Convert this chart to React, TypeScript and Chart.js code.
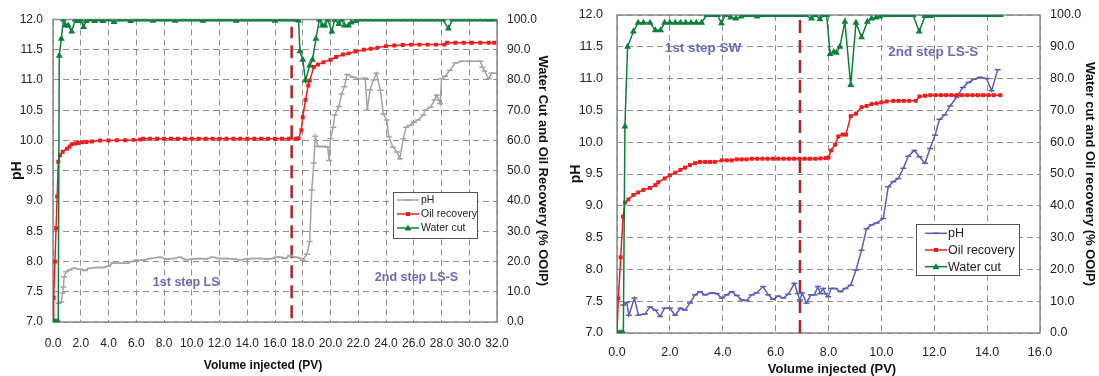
import React, { useEffect, useRef } from "react";
import { Chart, registerables } from "chart.js";

Chart.register(...registerables);

const FONT = '"Liberation Sans", Arial, Helvetica, sans-serif';

// ---------------- Left panel: 1st step LS / 2nd step LS-S ----------------
const lsPhX = [
  0.4, 0.6, 0.7, 0.75, 0.8, 0.95, 1.2, 1.5, 1.95, 2.3,
  2.65, 3.1, 3.6, 4.0, 4.35, 4.8, 5.3, 5.7, 6.0, 6.5,
  7.0, 7.7, 8.2, 8.7, 9.15, 9.6, 10.1, 10.6, 11.0, 11.5,
  12.0, 12.5, 13.0, 13.5, 14.0, 14.4, 14.9, 15.4, 15.8, 16.1,
  16.4, 16.7, 17.1, 17.5, 17.9, 18.0, 18.3, 18.5, 18.65, 18.8,
  18.9, 19.1, 19.4, 19.6, 19.8, 19.9, 20.0, 20.2, 20.3, 20.6,
  20.8, 21.0, 21.2, 21.6, 22.1, 22.5, 22.65, 22.85, 23.1, 23.3,
  23.6, 23.8, 24.05, 24.2, 24.5, 24.8, 25.0, 25.25, 25.45, 25.7,
  26.0, 26.3, 26.7, 26.8, 27.2, 27.5, 27.65, 27.9, 28.0, 28.25,
  28.6, 29.0, 29.45, 30.05, 30.8, 30.95, 31.1, 31.4, 31.6, 31.8,
];
const lsPhY = [
  7.31, 7.33, 7.48, 7.58, 7.75, 7.83, 7.86, 7.89, 7.87, 7.85,
  7.89, 7.9, 7.9, 7.92, 7.98, 7.97, 7.97, 8.0, 8.02, 8.02,
  8.05, 8.07, 8.04, 8.05, 8.07, 8.03, 8.04, 8.05, 8.04, 8.07,
  8.05, 8.05, 8.04, 8.03, 8.04, 8.05, 8.05, 8.04, 8.05, 8.07,
  8.07, 8.05, 8.1, 8.07, 8.05, 8.02, 8.12, 8.33, 9.18, 9.63,
  10.07, 9.9, 9.9, 9.9, 9.89, 9.67, 10.03, 10.22, 10.42, 10.56,
  10.77, 10.89, 11.09, 11.05, 11.02, 11.03, 10.5, 10.84, 11.0, 11.11,
  10.83, 10.44, 10.34, 10.06, 9.89, 9.81, 9.7, 10.03, 10.22, 10.25,
  10.3, 10.34, 10.42, 10.5, 10.55, 10.67, 10.75, 10.61, 11.02, 11.06,
  11.16, 11.28, 11.31, 11.31, 11.31, 11.21, 11.15, 11.02, 11.11, 11.11,
];
const lsOilX = [
  0, 0.05, 0.14, 0.22, 0.3, 0.38, 0.5, 0.7, 1.0, 1.2,
  1.35, 1.6, 1.8, 2.1, 2.4, 2.8, 3.4, 4.0, 4.6, 5.2,
  5.8, 6.3, 6.5, 7.0, 7.5, 8.0, 8.5, 9.0, 9.5, 10.0,
  10.5, 11.0, 11.5, 12.0, 12.5, 13.0, 13.5, 14.0, 14.5, 15.0,
  15.5, 16.0, 16.5, 17.0, 17.5, 17.7, 17.9, 18.0, 18.2, 18.4,
  18.5, 18.8, 19.1, 19.5, 20.0, 20.4, 20.9, 21.3, 21.8, 22.4,
  22.9, 23.4, 24.0, 24.6, 25.2, 25.8, 26.4, 27.0, 27.6, 28.2,
  28.4, 29.0, 29.6, 30.2, 30.8, 31.4, 31.8,
];
const lsOilY = [
  0, 8, 20, 31, 41.5, 53, 55.1, 56.3, 57.3, 58.0,
  58.8, 59.0, 59.2, 59.4, 59.5, 59.7, 60.0, 60.0, 60.1, 60.1,
  60.2, 60.3, 60.6, 60.6, 60.6, 60.6, 60.6, 60.6, 60.6, 60.6,
  60.6, 60.6, 60.6, 60.6, 60.6, 60.6, 60.6, 60.6, 60.6, 60.6,
  60.6, 60.6, 60.6, 60.6, 60.6, 60.7, 63.4, 67.7, 73.5, 78.2,
  79.8, 84.3, 85.1, 85.9, 86.7, 87.6, 88.4, 88.8, 89.4, 90.0,
  90.3, 90.7, 91.2, 91.4, 91.6, 91.7, 91.7, 91.7, 91.7, 91.7,
  92.3, 92.3, 92.3, 92.3, 92.3, 92.3, 92.3,
];
const lsWaterX = [
  0, 0.1, 0.2, 0.3, 0.38, 0.45, 0.6, 0.75, 0.9, 1.1,
  1.35, 1.6, 1.8, 2.0, 2.2, 2.4, 2.7, 3.0, 3.3, 3.6,
  4.0, 4.4, 4.8, 5.2, 5.6, 6.0, 6.4, 6.8, 7.2, 7.6,
  8.0, 8.4, 8.8, 9.2, 9.6, 10.0, 10.4, 10.8, 11.2, 11.6,
  12.0, 12.4, 12.8, 13.2, 13.6, 14.0, 14.4, 14.8, 15.2, 15.6,
  16.0, 16.4, 16.8, 17.2, 17.5, 17.7, 17.8, 18.0, 18.2, 18.5,
  18.7, 18.95, 19.2, 19.4, 19.6, 19.8, 20.1, 20.3, 20.6, 20.8,
  21.0, 21.3, 21.5, 21.8, 22.1, 22.5, 22.9, 23.3, 23.7, 24.1,
  24.5, 24.9, 25.3, 25.7, 26.1, 26.5, 26.9, 27.3, 27.7, 28.1,
  28.5, 28.8, 29.2, 29.6, 30.0, 30.4, 30.8, 31.2, 31.5, 31.8,
];
const lsWaterY = [
  0, 0, 0, 0, 0, 88, 93.6, 100, 98, 98,
  96, 100, 99.5, 100, 97.5, 99.5, 100, 99.5, 100, 99.5,
  100, 99.2, 100, 100, 99.5, 100, 100, 100, 99.6, 100,
  100, 100, 99.6, 100, 100, 100, 100, 99.6, 100, 100,
  100, 100, 100, 99.6, 100, 100, 100, 100, 100, 100,
  99.6, 100, 100, 100, 100, 99.7, 89.5, 86.7, 79.8, 84.8,
  86.7, 93.6, 100, 98, 98, 100, 96, 100, 98.5, 100,
  98, 98, 99, 99.5, 100, 100, 100, 100, 100, 100,
  100, 100, 100, 100, 100, 100, 100, 100, 100, 100,
  97, 100, 100, 100, 100, 100, 100, 100, 100, 100,
];
const lsXTicks = [0, 2, 4, 6, 8, 10, 12, 14, 16, 18, 20, 22, 24, 26, 28, 30, 32];
const lsSwitchPV = 17.2;

// ---------------- Right panel: 1st step SW / 2nd step LS-S ----------------
const swPhX = [
  0.24, 0.37, 0.45, 0.66, 0.81, 1.06, 1.25, 1.45, 1.63, 1.8,
  2.0, 2.2, 2.4, 2.57, 2.76, 2.95, 3.14, 3.33, 3.58, 3.77,
  3.96, 4.15, 4.34, 4.53, 4.72, 4.9, 5.1, 5.28, 5.53, 5.72,
  5.9, 6.1, 6.29, 6.48, 6.71, 6.83, 6.92, 7.0, 7.17, 7.33,
  7.47, 7.6, 7.68, 7.8, 7.87, 7.99, 8.1, 8.25, 8.45, 8.64,
  8.84, 9.04, 9.25, 9.44, 9.63, 9.82, 10.07, 10.26, 10.45, 10.64,
  10.83, 11.02, 11.25, 11.44, 11.65, 11.84, 12.03, 12.2, 12.4, 12.6,
  12.85, 13.08, 13.3, 13.5, 13.73, 13.98, 14.17, 14.4,
];
const swPhY = [
  7.44, 7.48, 7.28, 7.55, 7.28, 7.3, 7.41, 7.36, 7.26, 7.39,
  7.39, 7.28, 7.39, 7.36, 7.47, 7.6, 7.65, 7.6, 7.63, 7.62,
  7.55, 7.6, 7.65, 7.59, 7.52, 7.51, 7.6, 7.63, 7.73, 7.6,
  7.53, 7.58, 7.55, 7.61, 7.78, 7.62, 7.52, 7.63, 7.47, 7.6,
  7.6, 7.73, 7.62, 7.7, 7.62, 7.57, 7.7, 7.7, 7.65, 7.7,
  7.75, 7.99, 8.3, 8.64, 8.7, 8.73, 8.8, 9.3, 9.38, 9.43,
  9.59, 9.78, 9.87, 9.77, 9.67, 9.9, 10.11, 10.36, 10.43, 10.57,
  10.71, 10.86, 10.94, 10.99, 11.02, 11.0, 10.81, 11.14,
];
const swOilX = [
  0, 0.05, 0.14, 0.23, 0.3, 0.43, 0.62, 0.8, 1.0, 1.25,
  1.45, 1.56, 1.8, 2.0, 2.2, 2.4, 2.57, 2.76, 2.95, 3.14,
  3.33, 3.52, 3.7, 3.96, 4.15, 4.34, 4.53, 4.72, 4.9, 5.1,
  5.3, 5.5, 5.7, 5.9, 6.1, 6.3, 6.5, 6.7, 6.9, 7.1,
  7.3, 7.5, 7.7, 7.9, 8.0, 8.1, 8.25, 8.37, 8.53, 8.66,
  8.84, 9.04, 9.25, 9.44, 9.63, 9.82, 10.0, 10.2, 10.45, 10.65,
  10.85, 11.05, 11.3, 11.44, 11.65, 11.85, 12.05, 12.25, 12.45, 12.65,
  12.85, 13.05, 13.25, 13.45, 13.65, 13.85, 14.05, 14.25, 14.5,
];
const swOilY = [
  0, 10.9, 23.8, 36.6, 41, 42, 43.4, 44.2, 45, 45.6,
  46.5, 47.4, 48.6, 49.6, 50.4, 51.3, 52, 52.8, 53.4, 53.8,
  53.8, 53.8, 53.8, 54.3, 54.3, 54.3, 54.6, 54.6, 54.6, 54.8,
  54.8, 54.8, 54.8, 54.8, 54.8, 54.8, 54.8, 54.8, 54.8, 54.8,
  54.8, 54.8, 54.9, 55.0, 55.2, 57.4, 59.2, 61.8, 62.4, 62.4,
  68.2, 69.0, 71.0, 71.4, 72.0, 72.2, 72.5, 72.8, 73.0, 73.0,
  73.0, 73.0, 73.0, 74.4, 74.6, 74.8, 74.8, 74.8, 74.8, 74.8,
  74.8, 74.8, 74.8, 74.8, 74.8, 74.8, 74.8, 74.8, 74.8,
];
const swWaterX = [
  0, 0.08, 0.16, 0.24, 0.3, 0.4, 0.62, 0.8, 1.0, 1.25,
  1.45, 1.65, 1.8, 2.0, 2.2, 2.4, 2.6, 2.8, 3.0, 3.2,
  3.4, 3.6, 3.8, 3.95, 4.1, 4.3, 4.5, 4.7, 4.9, 5.1,
  5.3, 5.5, 5.7, 5.9, 6.1, 6.3, 6.5, 6.7, 6.9, 7.1,
  7.36, 7.5, 7.68, 7.8, 7.93, 8.06, 8.2, 8.3, 8.43, 8.62,
  8.84, 9.04, 9.25, 9.47, 9.63, 9.8, 9.95, 10.2, 10.4, 10.6,
  10.8, 11.0, 11.2, 11.43, 11.65, 11.85, 12.05, 12.25, 12.45, 12.65,
  12.85, 13.05, 13.25, 13.45, 13.65, 13.85, 14.05, 14.25, 14.5,
];
const swWaterY = [
  0, 0, 0, 0, 64.9, 90, 94.8, 97.6, 97.6, 97.6,
  95.2, 95.2, 97.6, 97.6, 97.6, 97.6, 97.6, 97.6, 97.6, 97.6,
  100, 100, 100, 97.4, 100, 99.2, 98.9, 99.5, 100, 100,
  99.5, 100, 100, 100, 100, 100, 100, 100, 100, 100,
  98.9, 100, 98.7, 100, 100, 87.7, 88.4, 88.1, 90, 97.9,
  78, 97.6, 93, 97.9, 98.9, 99.2, 99.5, 100, 100, 100,
  100, 100, 100, 94.8, 99.7, 99.7, 100, 100, 100, 100,
  100, 100, 100, 100, 100, 100, 100, 100, 100,
];
const swXTicks = [0, 2, 4, 6, 8, 10, 12, 14, 16];
const swSwitchPV = 6.92;

const phTicks = [7, 7.5, 8, 8.5, 9, 9.5, 10, 10.5, 11, 11.5, 12];
const pctTicks = [0, 10, 20, 30, 40, 50, 60, 70, 80, 90, 100];

// ---------------- styling ----------------
const GREEN = "#0c7f3c";
const RED = "#ee1c1c";
const GRAY = "#a3a3a3";
const BLUE = "#5c5cb4";
const DIVIDER = "#ad2426";
const NOTE = "#6b6bb3";
const GRID = "#8f8f8f";
const FRAME = "#8a8a8a";
const TEXT = "#222";

function pts(xs: number[], ys: number[]) {
  return xs.map((x, i) => ({ x, y: ys[i] }));
}

type Entry = { label: string; color: string; style: string };

const overlayPlugin = {
  id: "overlay",
  beforeDatasetsDraw(chart: any) {
    const { ctx, chartArea: a } = chart;
    ctx.save();
    ctx.setLineDash([]);
    ctx.strokeStyle = FRAME;
    ctx.lineWidth = 1.5;
    ctx.strokeRect(a.left, a.top, a.right - a.left, a.bottom - a.top);
    ctx.restore();
  },
  afterDatasetsDraw(chart: any, _args: any, opts: any) {
    const { ctx } = chart;
    const xs = chart.scales.x;
    const ys = chart.scales.y;
    ctx.save();
    // step notes
    ctx.font = `bold ${opts.noteSize}px ${FONT}`;
    ctx.fillStyle = NOTE;
    ctx.textAlign = "center";
    ctx.textBaseline = "middle";
    for (const n of opts.notes) {
      ctx.fillText(n.text, xs.getPixelForValue(n.x), ys.getPixelForValue(n.y));
    }
    // legend
    const L = opts.legend;
    ctx.fillStyle = "#fff";
    ctx.fillRect(L.x, L.y, L.w, L.h);
    ctx.strokeStyle = "#555";
    ctx.lineWidth = 1;
    ctx.strokeRect(L.x + 0.5, L.y + 0.5, L.w, L.h);
    ctx.font = `${L.size}px ${FONT}`;
    ctx.textAlign = "left";
    opts.entries.forEach((e: Entry, i: number) => {
      const y = L.y + L.first + i * L.row;
      ctx.strokeStyle = e.color;
      ctx.fillStyle = e.color;
      ctx.lineWidth = 1.5;
      ctx.beginPath();
      ctx.moveTo(L.lineX0, y);
      ctx.lineTo(L.lineX1, y);
      ctx.stroke();
      const cx = (L.lineX0 + L.lineX1) / 2;
      if (e.style === "rect") {
        ctx.fillRect(cx - 2, y - 2, 4, 4);
      } else if (e.style === "triangle") {
        ctx.beginPath();
        ctx.moveTo(cx, y - 3.5);
        ctx.lineTo(cx + 3.5, y + 2.5);
        ctx.lineTo(cx - 3.5, y + 2.5);
        ctx.closePath();
        ctx.fill();
      } else {
        ctx.beginPath();
        ctx.moveTo(cx - 3, y);
        ctx.lineTo(cx + 3, y);
        ctx.stroke();
      }
      ctx.fillStyle = TEXT;
      ctx.textBaseline = "middle";
      ctx.fillText(e.label, L.textX, y + 0.5);
    });
    // x axis title
    const T = opts.xTitle;
    ctx.font = `bold ${T.size}px ${FONT}`;
    ctx.fillStyle = "#111";
    ctx.textAlign = "center";
    ctx.textBaseline = "middle";
    ctx.fillText(T.text, T.x, T.y);
    ctx.restore();
  },
};

type Spec = {
  left: number;
  width: number;
  height: number;
  top: number;
  xAxisH: number;
  yAxisW: number;
  y2AxisW: number;
  xMax: number;
  xTicks: number[];
  tickSize: number;
  xTickPad: number;
  yTickGap: number;
  y2TickGap: number;
  phTitlePad: number;
  y2TitlePad: number;
  y2Title: string;
  ph: { x: number[]; y: number[]; color: string };
  oil: { x: number[]; y: number[] };
  water: { x: number[]; y: number[] };
  switchPV: number;
  switchRange: [number, number];
  noteSize: number;
  notes: { text: string; x: number; y: number }[];
  legend: any;
  xTitle: any;
};

function buildConfig(s: Spec): any {
  const entries: Entry[] = [
    { label: "pH", color: s.ph.color, style: "line" },
    { label: "Oil recovery", color: RED, style: "rect" },
    { label: "Water cut", color: GREEN, style: "triangle" },
  ];
  const tickFont = { family: FONT, size: s.tickSize };
  return {
    type: "line",
    data: {
      datasets: [
        {
          label: "Water cut",
          data: pts(s.water.x, s.water.y),
          yAxisID: "y2",
          borderColor: GREEN,
          backgroundColor: GREEN,
          borderWidth: 1.5,
          pointStyle: "triangle",
          pointRadius: 4,
          pointBorderWidth: 0,
          tension: 0,
        },
        {
          label: "Oil recovery",
          data: pts(s.oil.x, s.oil.y),
          yAxisID: "y2",
          borderColor: RED,
          backgroundColor: RED,
          borderWidth: 1.5,
          pointStyle: "rect",
          pointRadius: 2.8,
          pointBorderWidth: 0,
          tension: 0,
        },
        {
          label: "pH",
          data: pts(s.ph.x, s.ph.y),
          yAxisID: "y",
          borderColor: s.ph.color,
          backgroundColor: s.ph.color,
          borderWidth: 1.5,
          pointStyle: "line",
          pointRadius: 3,
          pointBorderWidth: 1.5,
          tension: 0,
        },
        {
          label: "switch",
          data: [
            { x: s.switchPV, y: s.switchRange[0] },
            { x: s.switchPV, y: s.switchRange[1] },
          ],
          yAxisID: "y",
          borderColor: DIVIDER,
          borderWidth: 2.5,
          borderDash: [13, 7],
          pointRadius: 0,
        },
      ],
    },
    options: {
      responsive: false,
      animation: false,
      devicePixelRatio: 1,
      layout: { padding: { top: s.top, left: 0, right: 0, bottom: 0 } },
      plugins: {
        legend: { display: false },
        tooltip: { enabled: false },
        overlay: {
          notes: s.notes,
          noteSize: s.noteSize,
          legend: s.legend,
          entries,
          xTitle: s.xTitle,
        },
      },
      scales: {
        x: {
          type: "linear",
          min: 0,
          max: s.xMax,
          afterBuildTicks: (sc: any) => {
            sc.ticks = s.xTicks.map((v) => ({ value: v }));
          },
          afterFit: (sc: any) => {
            sc.height = s.xAxisH;
          },
          ticks: {
            callback: (v: any) => Number(v).toFixed(1),
            font: tickFont,
            color: TEXT,
            padding: s.xTickPad,
            maxRotation: 0,
            autoSkip: false,
          },
          grid: { color: GRID, drawTicks: false, lineWidth: 1 },
          border: { display: false, dash: [6, 4] },
        },
        y: {
          type: "linear",
          position: "left",
          min: 7,
          max: 12,
          afterBuildTicks: (sc: any) => {
            sc.ticks = phTicks.map((v) => ({ value: v }));
          },
          afterFit: (sc: any) => {
            sc.width = s.yAxisW;
          },
          ticks: {
            callback: (v: any) => Number(v).toFixed(1),
            font: tickFont,
            color: TEXT,
            padding: 0,
          },
          grid: {
            color: GRID,
            drawTicks: true,
            tickLength: s.yTickGap,
            tickColor: "rgba(0,0,0,0)",
            lineWidth: 1,
          },
          border: { display: false, dash: [6, 4] },
          title: {
            display: true,
            text: "pH",
            color: "#111",
            font: { family: FONT, size: 14, weight: "bold" },
            padding: { top: s.phTitlePad, bottom: 0 },
          },
        },
        y2: {
          type: "linear",
          position: "right",
          min: 0,
          max: 100,
          afterBuildTicks: (sc: any) => {
            sc.ticks = pctTicks.map((v) => ({ value: v }));
          },
          afterFit: (sc: any) => {
            sc.width = s.y2AxisW;
          },
          ticks: {
            callback: (v: any) => Number(v).toFixed(1),
            font: tickFont,
            color: TEXT,
            padding: 0,
          },
          grid: { display: false, drawTicks: true, tickLength: s.y2TickGap },
          border: { display: false },
          title: {
            display: true,
            text: s.y2Title,
            color: "#111",
            font: { family: FONT, size: 13, weight: "bold" },
            padding: { top: s.y2TitlePad, bottom: 0 },
          },
        },
      },
    },
    plugins: [overlayPlugin],
  };
}

const leftSpec: Spec = {
  left: 0,
  width: 555,
  height: 376,
  top: 19.5,
  xAxisH: 54,
  yAxisW: 53,
  y2AxisW: 58,
  xMax: 32,
  xTicks: lsXTicks,
  tickSize: 12,
  xTickPad: 14,
  yTickGap: 10,
  y2TickGap: 10,
  phTitlePad: 9,
  y2TitlePad: 5,
  y2Title: "Water Cut and Oil Recovery (% OOIP)",
  ph: { x: lsPhX, y: lsPhY, color: GRAY },
  oil: { x: lsOilX, y: lsOilY },
  water: { x: lsWaterX, y: lsWaterY },
  switchPV: lsSwitchPV,
  switchRange: [7.06, 11.88],
  noteSize: 12.5,
  notes: [
    { text: "1st step LS", x: 9.6, y: 7.66 },
    { text: "2nd step LS-S", x: 26.2, y: 7.74 },
  ],
  legend: { x: 393, y: 192, w: 84, h: 46, first: 8, row: 14, size: 10.5, lineX0: 397, lineX1: 419, textX: 421 },
  xTitle: { text: "Volume injected (PV)", x: 263, y: 366, size: 12 },
};

const rightSpec: Spec = {
  left: 555,
  width: 544,
  height: 376,
  top: 15,
  xAxisH: 43,
  yAxisW: 62,
  y2AxisW: 59,
  xMax: 16,
  xTicks: swXTicks,
  tickSize: 12.5,
  xTickPad: 12,
  yTickGap: 14,
  y2TickGap: 10,
  phTitlePad: 13,
  y2TitlePad: 2,
  y2Title: "Water cut and Oil recovery (% OOIP)",
  ph: { x: swPhX, y: swPhY, color: BLUE },
  oil: { x: swOilX, y: swOilY },
  water: { x: swWaterX, y: swWaterY },
  switchPV: swSwitchPV,
  switchRange: [7.0, 12.0],
  noteSize: 13.5,
  notes: [
    { text: "1st step SW", x: 3.25, y: 11.48 },
    { text: "2nd step LS-S", x: 11.96, y: 11.42 },
  ],
  legend: { x: 361, y: 224, w: 103, h: 51, first: 9.3, row: 16.7, size: 12.5, lineX0: 370, lineX1: 392, textX: 393 },
  xTitle: { text: "Volume injected (PV)", x: 277, y: 369, size: 13 },
};

function Panel({ spec }: { spec: Spec }) {
  const ref = useRef<HTMLCanvasElement>(null);
  useEffect(() => {
    const chart = new Chart(ref.current as HTMLCanvasElement, buildConfig(spec));
    return () => chart.destroy();
  }, [spec]);
  return (
    <canvas
      ref={ref}
      width={spec.width}
      height={spec.height}
      style={{ position: "absolute", left: spec.left, top: 0, width: spec.width, height: spec.height }}
    />
  );
}

export default function App() {
  return (
    <div style={{ position: "fixed", left: 0, top: 0, width: 1099, height: 376, background: "#fff" }}>
      <Panel spec={leftSpec} />
      <Panel spec={rightSpec} />
    </div>
  );
}
